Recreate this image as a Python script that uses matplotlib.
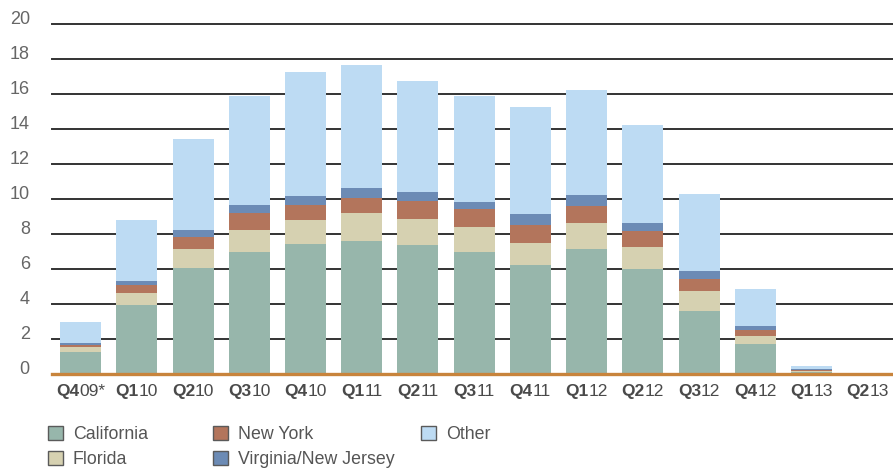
import matplotlib
matplotlib.use('Agg')
import matplotlib.pyplot as plt
from matplotlib.patches import Patch
from matplotlib.transforms import offset_copy
import numpy as np

plt.rcParams['font.family'] = ['Liberation Sans', 'DejaVu Sans']

# quarter labels: bold part + normal part
quarters = ['Q4', 'Q1', 'Q2', 'Q3', 'Q4', 'Q1', 'Q2', 'Q3', 'Q4', 'Q1', 'Q2', 'Q3', 'Q4', 'Q1', 'Q2']
years = ['09*', '10', '10', '10', '10', '11', '11', '11', '11', '12', '12', '12', '12', '13', '13']

california = [1.25, 3.95, 6.05, 6.95, 7.45, 7.6, 7.35, 6.95, 6.25, 7.15, 6.0, 3.6, 1.7, 0.1, 0]
florida = [0.3, 0.7, 1.1, 1.25, 1.35, 1.6, 1.5, 1.45, 1.25, 1.5, 1.25, 1.15, 0.45, 0.05, 0]
new_york = [0.1, 0.45, 0.65, 1.0, 0.85, 0.85, 1.05, 1.0, 1.0, 0.95, 0.9, 0.7, 0.35, 0.1, 0]
virginia_nj = [0.1, 0.2, 0.4, 0.45, 0.5, 0.55, 0.5, 0.45, 0.65, 0.65, 0.45, 0.45, 0.25, 0.05, 0]
other = [1.2, 3.5, 5.2, 6.25, 7.1, 7.05, 6.35, 6.05, 6.1, 6.0, 5.6, 4.4, 2.1, 0.15, 0]

series = [('California', california, '#97b6ab'),
          ('Florida', florida, '#d6d1b1'),
          ('New York', new_york, '#b3755c'),
          ('Virginia/New Jersey', virginia_nj, '#6c8bb5'),
          ('Other', other, '#bddbf3')]

W, H = 893, 473
fig = plt.figure(figsize=(W / 100, H / 100), dpi=100)
ax = fig.add_axes([52 / W, (H - 374) / H, (W - 52) / W, 350 / H])

x = np.arange(len(quarters))
bottom = np.zeros(len(quarters))
for name, vals, col in series:
    ax.bar(x, vals, width=0.73, bottom=bottom, color=col, zorder=3)
    bottom += np.array(vals)

ax.set_xlim(-0.51, 14.45)
ax.set_ylim(0, 20)
ax.set_yticks(range(0, 21, 2))
ax.set_yticklabels([str(v) for v in range(0, 21, 2)], fontsize=13, color='#666666')
for lab in ax.get_yticklabels():
    lab.set_verticalalignment('baseline')
ax.tick_params(axis='y', length=0, pad=16)
ax.set_xticks([])
ax.yaxis.grid(True, color='#333333', lw=1.4, zorder=0)
for gl in ax.get_ygridlines():
    gl.set_clip_on(False)
for s in ax.spines.values():
    s.set_visible(False)
ax.axhline(0, color='#c8843c', lw=2.4, zorder=5, clip_on=False)

# two-part category labels
fig.canvas.draw()
r = fig.canvas.get_renderer()
trans = ax.get_xaxis_transform()
for i, (q, yr) in enumerate(zip(quarters, years)):
    tb = ax.text(i, 0, q, transform=trans, fontsize=12.5, fontweight='bold',
                 color='#4a4a4a', va='top', ha='left')
    tn = ax.text(i, 0, yr, transform=trans, fontsize=12.5,
                 color='#4a4a4a', va='top', ha='left')
    wb = tb.get_window_extent(r).width
    wn = tn.get_window_extent(r).width
    tot = wb + wn
    tb.set_transform(offset_copy(trans, x=-tot / 2, y=-10, units='dots'))
    tn.set_transform(offset_copy(trans, x=-tot / 2 + wb, y=-10, units='dots'))

# legend, three columns placed separately
cols = [(48, [0, 1]), (213, [2, 3]), (421, [4])]
for xpx, idx in cols:
    handles = [Patch(facecolor=series[k][2], edgecolor='#5a5a5a', lw=1,
                     label=series[k][0]) for k in idx]
    leg = fig.legend(handles=handles, loc='upper left',
                     bbox_to_anchor=(xpx / W, (H - 426) / H),
                     frameon=False, fontsize=12.8, borderpad=0, borderaxespad=0,
                     handlelength=0.85, handleheight=0.85, handletextpad=0.55,
                     labelspacing=0.42, labelcolor='#555555')

fig.savefig('out.png', dpi=100)
